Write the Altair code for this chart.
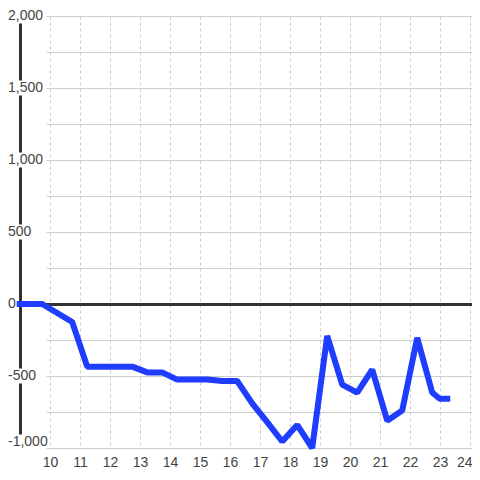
import altair as alt
import pandas as pd

# ---- data ----
hours = [8.99, 9.74, 10.74, 11.24, 12.74, 13.24, 13.74, 14.24, 15.24, 15.74,
         16.24, 16.74, 17.24, 17.74, 18.24, 18.74, 19.24, 19.74, 20.24, 20.74,
         21.24, 21.74, 22.24, 22.74, 22.99, 23.24]
values = [0, 0, -125, -435, -435, -475, -475, -525, -525, -535,
          -535, -690, -820, -955, -840, -1000, -222, -560, -615, -455,
          -810, -740, -235, -615, -658, -658]

x_ticks = list(range(10, 25))
grid_values = [-1000, -750, -500, -250, 0, 250, 500, 750, 1000, 1250, 1500, 1750, 2000]
label_values = [-1000, -500, 0, 500, 1000, 1500, 2000]
label_texts = ["-1,000", "-500", "0", "500", "1,000", "1,500", "2,000"]

line_df = pd.DataFrame({"hour": hours, "value": values})
label_df = pd.DataFrame({"v": label_values, "t": label_texts})

FONT = "Liberation Sans"
x_scale = alt.Scale(domain=[9.86667, 24.06667], nice=False, zero=False)
y_scale = alt.Scale(domain=[-1000, 2000], nice=False, zero=False)

x_axis = alt.Axis(values=x_ticks, grid=True, gridColor="#cccccc", gridDash=[3, 3],
                  gridWidth=1, domain=False, ticks=False, tickSize=0, labelPadding=7,
                  labelFont=FONT, labelFontSize=14, labelColor="#444444",
                  title=None, format="d", labelFlush=3, labelFlushOffset=2,
                  labelOverlap=False)
y_axis = alt.Axis(values=grid_values, grid=True, gridColor="#cccccc", gridWidth=1,
                  domain=False, ticks=False, labels=False, title=None)

# vertical y-axis line
yline = alt.Chart(label_df).mark_rule(color="#333333", strokeWidth=3, xOffset=0.5).encode(
    x=alt.value(-26),
    y=alt.Y("max(v):Q", scale=y_scale, axis=y_axis),
    y2=alt.Y2("min(v)"),
)

# white label backgrounds breaking the axis line
boxes = alt.Chart(label_df).transform_filter(
    "datum.v != 0 && datum.v != -1000"
).mark_tick(color="white", thickness=15, size=8, opacity=1).encode(
    x=alt.value(-26),
    y=alt.Y("v:Q", scale=y_scale, axis=y_axis),
)
boxes_bottom = alt.Chart(label_df).transform_filter(
    "datum.v == -1000"
).mark_tick(color="white", thickness=15, size=8, opacity=1, yOffset=-6).encode(
    x=alt.value(-26),
    y=alt.Y("v:Q", scale=y_scale, axis=y_axis),
)

labels = alt.Chart(label_df).transform_filter("datum.v != -1000").mark_text(
    align="left", baseline="middle", font=FONT, fontSize=14, color="#444444"
).encode(
    x=alt.value(-38),
    y=alt.Y("v:Q", scale=y_scale, axis=y_axis),
    text="t:N",
)
labels_bottom = alt.Chart(label_df).transform_filter("datum.v == -1000").mark_text(
    align="left", baseline="middle", font=FONT, fontSize=14, color="#444444", dy=-6
).encode(
    x=alt.value(-38),
    y=alt.Y("v:Q", scale=y_scale, axis=y_axis),
    text="t:N",
)

zero = alt.Chart(label_df).transform_filter("datum.v == 0").mark_rule(
    color="#333333", strokeWidth=3, yOffset=0.5
).encode(y=alt.Y("v:Q", scale=y_scale, axis=y_axis))

line = alt.Chart(line_df).mark_line(
    color="#1f3dff", strokeWidth=6, strokeCap="square", strokeJoin="bevel", clip=False
).encode(
    x=alt.X("hour:Q", scale=x_scale, axis=x_axis),
    y=alt.Y("value:Q", scale=y_scale, axis=y_axis),
)

chart = alt.layer(yline, boxes, boxes_bottom, labels, labels_bottom, zero, line).properties(
    width=426,
    height=432,
    autosize=alt.AutoSizeParams(type="none"),
    padding={"left": 38, "top": 8, "right": 0, "bottom": 24},
    background="white",
).configure_view(strokeWidth=0)

chart.save("out.html", embed_options={"renderer": "svg", "actions": False})
